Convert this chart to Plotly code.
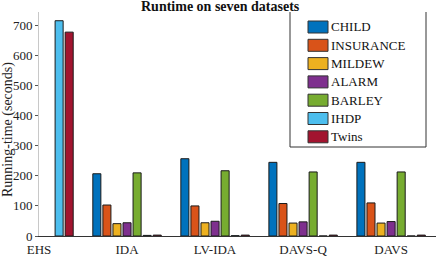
import plotly.graph_objects as go

categories = ["EHS", "IDA", "LV-IDA", "DAVS-Q", "DAVS"]
series_names = ["CHILD", "INSURANCE", "MILDEW", "ALARM", "BARLEY", "IHDP", "Twins"]
child = [None, 207, 257, 245, 245]
insurance = [None, 103, 100, 108, 110]
mildew = [None, 41, 44, 43, 43]
alarm = [None, 44, 49, 47, 48]
barley = [None, 210, 217, 213, 213]
ihdp = [716, 2, 1, 0, 0]
twins = [678, 3, 3, 3, 3]
yticks = [0, 100, 200, 300, 400, 500, 600, 700]

values = [child, insurance, mildew, alarm, barley, ihdp, twins]
colors = ["#0072BD", "#D95319", "#EDB120", "#7E2F8E", "#77AC30", "#4DBEEE", "#A2142F"]

SERIF = "Times New Roman"
W, H = 436, 258
ML, MR, MT, MB = 39, 0, 12, 22
PW, PH = W - ML - MR, H - MT - MB


def px(x):
    return (x - ML) / PW


def py(y):
    return (H - MB - y) / PH


fig = go.Figure()
for name, vals, col in zip(series_names, values, colors):
    fig.add_trace(go.Bar(
        name=name, x=list(range(len(categories))), y=vals,
        marker=dict(color=col, line=dict(color="#1a1a1a", width=1)),
        showlegend=False, hoverinfo="skip",
    ))

fig.add_annotation(text="<b>Runtime on seven datasets</b>", xref="paper", yref="paper",
                   x=px(220), y=py(7), xanchor="center", yanchor="middle",
                   showarrow=False, font=dict(family=SERIF, size=14, color="#111"))

fig.add_annotation(text="Running-time (seconds)", xref="paper", yref="paper",
                   x=px(8), y=py(130), xanchor="center", yanchor="middle",
                   textangle=-90, showarrow=False,
                   font=dict(family=SERIF, size=14, color="#222"))

# legend box (left, right, bottom borders)
lx0, lx1, ly0, ly1 = 290, 426, 12, 147
for (xa, ya, xb, yb) in [(lx0, ly0, lx0, ly1), (lx1, ly0, lx1, ly1), (lx0, ly1, lx1, ly1)]:
    fig.add_shape(type="line", xref="paper", yref="paper",
                  x0=px(xa), y0=py(ya), x1=px(xb), y1=py(yb),
                  line=dict(color="#333", width=1))
row_y0, row_dy = 27, 18.3
for i, (name, col) in enumerate(zip(series_names, colors)):
    yc = row_y0 + i * row_dy
    fig.add_shape(type="rect", xref="paper", yref="paper",
                  x0=px(308), x1=px(328), y0=py(yc - 6), y1=py(yc + 6),
                  fillcolor=col, line=dict(color="#333", width=1))
    fig.add_annotation(text=name, xref="paper", yref="paper", x=px(329), y=py(yc),
                       xanchor="left", yanchor="middle", showarrow=False,
                       font=dict(family=SERIF, size=13, color="#111"))

fig.update_layout(
    width=W, height=H,
    margin=dict(l=ML, r=MR, t=MT, b=MB),
    paper_bgcolor="white", plot_bgcolor="white",
    barmode="group", bargap=0.2, bargroupgap=0.2,
    font=dict(family=SERIF, size=13, color="#222"),
    showlegend=False, hovermode=False,
    xaxis=dict(range=[0, 4.51], tickmode="array", tickvals=list(range(len(categories))),
               ticktext=categories, showline=True, linecolor="#333", linewidth=1,
               ticks="", showgrid=False, zeroline=False, ticklabelstandoff=1,
               automargin=False, ticklabeloverflow="allow",
               tickfont=dict(family=SERIF, size=13, color="#222")),
    yaxis=dict(range=[0, 745], tickmode="array", tickvals=yticks,
               showline=True, linecolor="#c8c8c8", linewidth=1,
               ticks="outside", ticklen=3, tickcolor="#555",
               showgrid=False, zeroline=False, automargin=False,
               ticklabeloverflow="allow",
               tickfont=dict(family=SERIF, size=13, color="#222")),
)

fig.write_html("out.html", config={"displayModeBar": False, "responsive": False},
               post_script="document.body.style.margin='0';")
